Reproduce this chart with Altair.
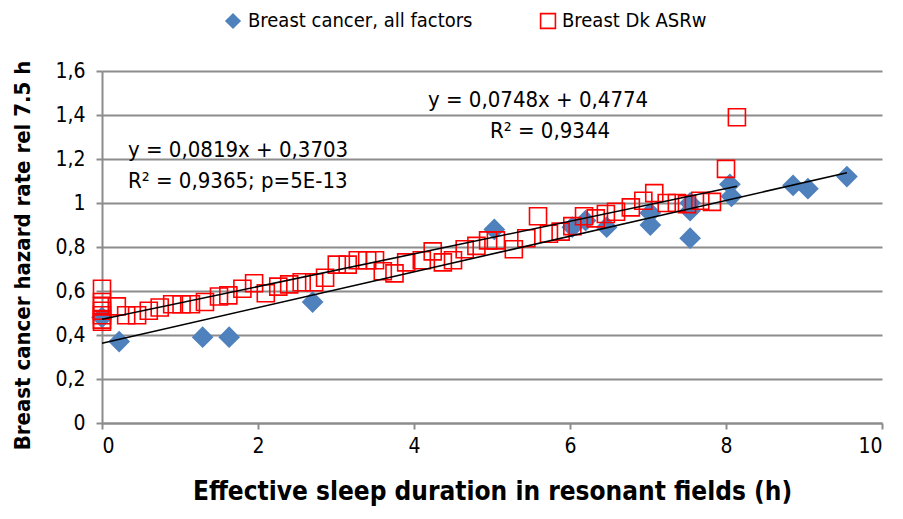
import altair as alt
import pandas as pd

blue_label = "Breast cancer, all factors"
red_label = "Breast Dk ASRw"

blue_x = [0.0, 0.22, 1.29, 1.63, 2.7, 5.03, 6.03, 6.2, 6.47, 7.03, 7.03, 7.54, 7.54, 7.54, 8.05, 8.07, 8.86, 9.05, 9.55]
blue_y = [0.48, 0.37, 0.39, 0.39, 0.55, 0.88, 0.89, 0.92, 0.89, 0.90, 0.955, 0.84, 0.965, 1.0, 1.085, 1.03, 1.08, 1.065, 1.12]

red_x = [0, 0, 0, 0, 0, 0, 0,
         0.19, 0.31, 0.45, 0.6, 0.74, 0.9, 1.02, 1.14, 1.32, 1.5, 1.62, 1.8, 1.95,
         2.1, 2.26, 2.4, 2.56, 2.72, 2.86, 3.01, 3.15, 3.28, 3.4, 3.5, 3.6, 3.75,
         3.9, 4.1, 4.24, 4.37, 4.5, 4.65, 4.8, 4.95, 5.05, 5.28, 5.44, 5.59, 5.73,
         5.88, 6.03, 6.18, 6.33, 6.46, 6.59, 6.78, 6.94, 7.08, 7.24, 7.37, 7.5,
         7.67, 7.82, 8.0, 8.14]
red_y = [0.61, 0.55, 0.53, 0.51, 0.49, 0.47, 0.46,
         0.53, 0.49, 0.49, 0.51, 0.525, 0.54, 0.54, 0.54, 0.55, 0.575, 0.58, 0.61, 0.635,
         0.59, 0.62, 0.63, 0.64, 0.64, 0.66, 0.72, 0.72, 0.74, 0.74, 0.74, 0.69, 0.68,
         0.73, 0.74, 0.78, 0.73, 0.74, 0.79, 0.805, 0.83, 0.83, 0.79, 0.84, 0.94, 0.86,
         0.87, 0.895, 0.94, 0.93, 0.95, 0.96, 0.98, 1.01, 1.045, 1.0, 1.0, 0.995,
         1.01, 1.005, 1.155, 1.39]

eq_blue = ["y = 0,0819x + 0,3703", "R² = 0,9365; p=5E-13"]
eq_red = ["y = 0,0748x + 0,4774", "R² = 0,9344"]

x_ticks = [0, 2, 4, 6, 8, 10]
y_ticks = [0, 0.2, 0.4, 0.6, 0.8, 1.0, 1.2, 1.4, 1.6]

df = pd.DataFrame({
    "x": blue_x + red_x,
    "y": blue_y + red_y,
    "series": [blue_label] * len(blue_x) + [red_label] * len(red_x),
})
one = pd.DataFrame({"k": [0]})

FONT = "'Liberation Sans Narrow', 'DejaVu Sans Condensed', 'Noto Sans', sans-serif"
BLUE = "#4F81BD"
RED = "#FF0000"
GRID = "#8c8c8c"

lab_expr = "replace(format(datum.value, '~g'), '.', ',')"

xenc = alt.X("x:Q", scale=alt.Scale(domain=[0, 10], nice=False),
             axis=alt.Axis(values=x_ticks, labelExpr=lab_expr, grid=False,
                           title="Effective sleep duration in resonant fields (h)",
                           titleFontSize=26, titleFontWeight="bold", titlePadding=22,
                           labelFontSize=21, labelPadding=6))
yenc = alt.Y("y:Q", scale=alt.Scale(domain=[0, 1.6], nice=False),
             axis=alt.Axis(values=y_ticks, labelExpr=lab_expr, grid=True,
                           title="Breast cancer  hazard rate rel 7.5 h",
                           titleFontSize=22, titleFontWeight="bold",
                           titleX=-80, titleY=184, titleAngle=270,
                           titleAlign="center", titleBaseline="middle",
                           labelFontSize=21, labelPadding=11))

dom = [blue_label, red_label]
points = alt.Chart(df).mark_point(strokeWidth=1.6, opacity=1).encode(
    x=xenc, y=yenc,
    shape=alt.Shape("series:N", scale=alt.Scale(domain=dom, range=["diamond", "square"]), legend=None),
    fill=alt.Fill("series:N", scale=alt.Scale(domain=dom, range=[BLUE, "transparent"]), legend=None),
    stroke=alt.Stroke("series:N", scale=alt.Scale(domain=dom, range=[BLUE, RED]), legend=None),
    size=alt.Size("series:N", scale=alt.Scale(domain=dom, range=[380, 290]), legend=None),
)

def reg(label):
    return alt.Chart(df).transform_filter(
        alt.datum.series == label
    ).transform_regression("x", "y", method="linear").mark_line(
        color="black", strokeWidth=1.6
    ).encode(x="x:Q", y="y:Q")

def txt(s, px, py, size=22):
    return alt.Chart(one).mark_text(align="left", baseline="middle", fontSize=size,
                                    font=FONT, color="black", text=s).encode(
        x=alt.value(px), y=alt.value(py))

def sym(shape, filled, color, px, py, size):
    return alt.Chart(one).mark_point(shape=shape, filled=filled, color=color, size=size,
                                     strokeWidth=1.6, opacity=1).encode(
        x=alt.value(px), y=alt.value(py))

texts = [
    txt(eq_blue[0], 26, 79),
    txt(eq_blue[1], 26, 110),
    txt(eq_red[0], 326, 29),
    txt(eq_red[1], 388, 60),
]
legend = [
    sym("diamond", True, BLUE, 131, -50, 260),
    txt(blue_label, 146, -50, 20),
    sym("square", False, RED, 446, -50, 220),
    txt(red_label, 460, -50, 20),
]

chart = alt.layer(points, reg(blue_label), reg(red_label), *texts, *legend).properties(
    width=780, height=352,
    autosize=alt.AutoSizeParams(type="none"),
    padding={"left": 94, "top": 63, "right": 13, "bottom": 96},
).configure(font=FONT).configure_view(stroke=None).configure_axis(
    domainColor=GRID, domainWidth=2, tickColor=GRID, tickWidth=2, tickSize=6,
    gridColor=GRID, gridWidth=2, labelColor="black", titleColor="black",
    labelFont=FONT, titleFont=FONT,
)

chart.save("out.html", embed_options={"renderer": "svg", "actions": False})
